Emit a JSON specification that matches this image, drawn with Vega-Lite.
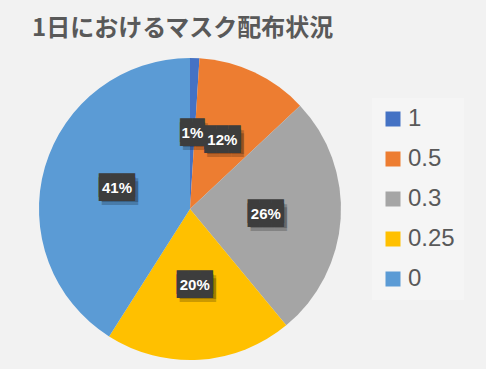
{
  "$schema": "https://vega.github.io/schema/vega-lite/v6.json",
  "autosize": {"type": "none"},
  "width": 304,
  "height": 304,
  "padding": {"left": 38, "top": 57, "right": 144, "bottom": 8},
  "background": "#f2f2f2",
  "config": {"view": {"stroke": null}},
  "title": {
    "text": "1日におけるマスク配布状況",
    "anchor": "start",
    "frame": "group",
    "dx": -6,
    "offset": 16,
    "fontSize": 24,
    "font": "Noto Sans CJK JP",
    "fontWeight": "bold",
    "color": "#595959"
  },
  "data": {
    "values": [
      {"category": "1", "order": 1, "value": 1, "label": "1%"},
      {"category": "0.5", "order": 2, "value": 12, "label": "12%"},
      {"category": "0.3", "order": 3, "value": 26, "label": "26%"},
      {"category": "0.25", "order": 4, "value": 20, "label": "20%"},
      {"category": "0", "order": 5, "value": 41, "label": "41%"}
    ]
  },
  "encoding": {
    "theta": {"field": "value", "type": "quantitative", "stack": true},
    "order": {"field": "order", "type": "quantitative"}
  },
  "layer": [
    {
      "mark": {"type": "arc", "outerRadius": 151},
      "encoding": {
        "color": {
          "field": "category",
          "type": "nominal",
          "scale": {
            "domain": ["1", "0.5", "0.3", "0.25", "0"],
            "range": ["#4472C4", "#ED7D31", "#A5A5A5", "#FFC000", "#5B9BD5"]
          },
          "legend": {
            "title": null,
            "orient": "none",
            "legendX": 334,
            "legendY": 41,
            "symbolType": "square",
            "symbolSize": 225,
            "symbolStrokeWidth": 0,
            "labelFontSize": 24,
            "labelFont": "Liberation Sans",
            "labelColor": "#595959",
            "labelOffset": 3,
            "rowPadding": 16,
            "padding": 9,
            "fillColor": "#f5f5f5",
            "labelLimit": 200
          }
        }
      }
    },
    {
      "mark": {"type": "text", "radius": 76, "dx": 3, "dy": 3, "font": "DejaVu Sans Mono", "fontSize": 20, "baseline": "middle", "color": "#000000", "opacity": 0.2, "text": {"expr": "datum.value < 5 ? '██' : '███'"}},
      "encoding": {}
    },
    {
      "mark": {"type": "text", "radius": 76, "dx": 3, "dy": 6, "font": "DejaVu Sans Mono", "fontSize": 20, "baseline": "middle", "color": "#000000", "opacity": 0.2, "text": {"expr": "datum.value < 5 ? '██' : '███'"}},
      "encoding": {}
    },
    {
      "mark": {"type": "text", "radius": 76, "dy": -2, "font": "DejaVu Sans Mono", "fontSize": 20, "baseline": "middle", "color": "#3d3d3d", "text": {"expr": "datum.value < 5 ? '██' : '███'"}},
      "encoding": {}
    },
    {
      "mark": {"type": "text", "radius": 76, "dy": 2, "font": "DejaVu Sans Mono", "fontSize": 20, "baseline": "middle", "color": "#3d3d3d", "text": {"expr": "datum.value < 5 ? '██' : '███'"}},
      "encoding": {}
    },
    {
      "mark": {"type": "text", "radius": 76, "font": "Liberation Sans", "fontWeight": "bold", "fontSize": 15, "baseline": "middle", "color": "#ffffff"},
      "encoding": {"text": {"field": "label"}}
    }
  ]
}
